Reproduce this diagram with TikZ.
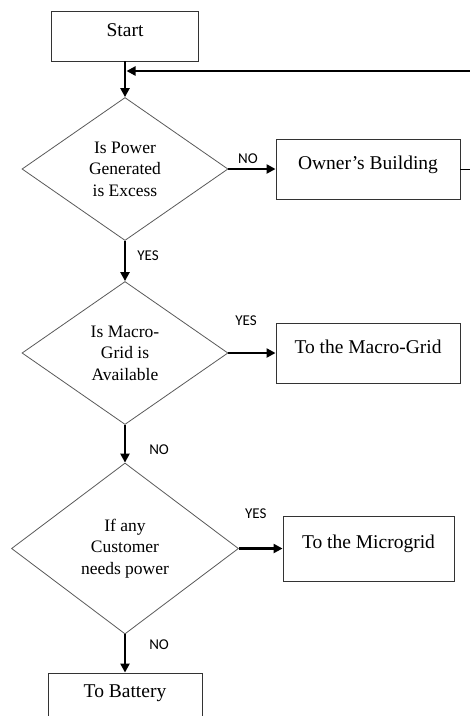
\documentclass[tikz,border=0pt]{standalone}
\usepackage{fontspec}
\setmainfont{Liberation Serif}
\newfontfamily\labelfont{Carlito}
\usetikzlibrary{positioning, shapes.geometric, arrows.meta, calc}

\begin{document}
\begin{tikzpicture}[
		x=1pt, y=-1pt,
		box/.style={draw=black!80, line width=0.9pt, inner sep=0pt, font=\fontsize{19.5}{23}\selectfont},
		test/.style={diamond, draw=black!65, line width=0.8pt, inner sep=0pt, align=center, font=\fontsize{17.5}{21.5}\selectfont},
		flow/.style={line width=2.6pt, -{Triangle[length=9pt,width=9pt]}},
		lbl/.style={inner sep=0pt, font=\labelfont\fontsize{15}{18}\selectfont}]
		\useasboundingbox (0,0) rectangle (470,716);
		\node[box, minimum width=147pt, text height=25pt, text depth=25pt] (start) at (125,36) {Start};
		\node[test, minimum width=206pt, minimum height=143pt] (q1) at (125,169) {Is Power\\Generated\\is Excess};
		\node[box, minimum width=184pt, text height=30pt, text depth=30pt] (own) at ($ (q1) + (243,0) $) {Owner’s Building};
		\node[test, minimum width=206pt, minimum height=143pt] (q2) at (125,353) {Is Macro-\\Grid is\\Available};
		\node[box, minimum width=184pt, text height=30pt, text depth=30pt] (macro) at ($ (q2) + (243,0) $) {To the Macro-Grid};
		\node[test, minimum width=227pt, minimum height=171pt] (q3) at (125,548.5) {If any\\Customer\\needs power};
		\node[box, minimum width=171pt, text height=32.5pt, text depth=32.5pt] (micro) at ($ (q3) + (243.5,0) $) {To the Microgrid};
		\node[box, minimum width=154pt, text height=24pt, text depth=24pt] (battery) at (125,697) {To Battery};
		\coordinate (join) at (126.5,71);
		\coordinate (turn) at ($ (own.east) + (12,0) $);
		\draw[flow] (start) -- (q1);
		\draw[flow] (q1) -- node[lbl, above=4pt, xshift=-4pt]{NO}(own);
		\draw[flow] (q1) -- node[lbl, pos=0.37, right=11pt]{YES}(q2);
		\draw[flow] (q2) -- node[lbl, above=26pt, xshift=-6pt]{YES}(macro);
		\draw[flow] (q2) -- node[lbl, pos=0.66, right=23pt]{NO}(q3);
		\draw[flow] (q3) -- node[lbl, above=29pt, xshift=-5pt]{YES}(micro);
		\draw[flow] (q3) -- node[lbl, pos=0.28, right=23pt]{NO}(battery);
		
		% back to the first test
		\draw[line width=1pt] (own.east) -- (turn);
		\draw[flow] (turn) |- (join);
	\end{tikzpicture}
\end{document}
